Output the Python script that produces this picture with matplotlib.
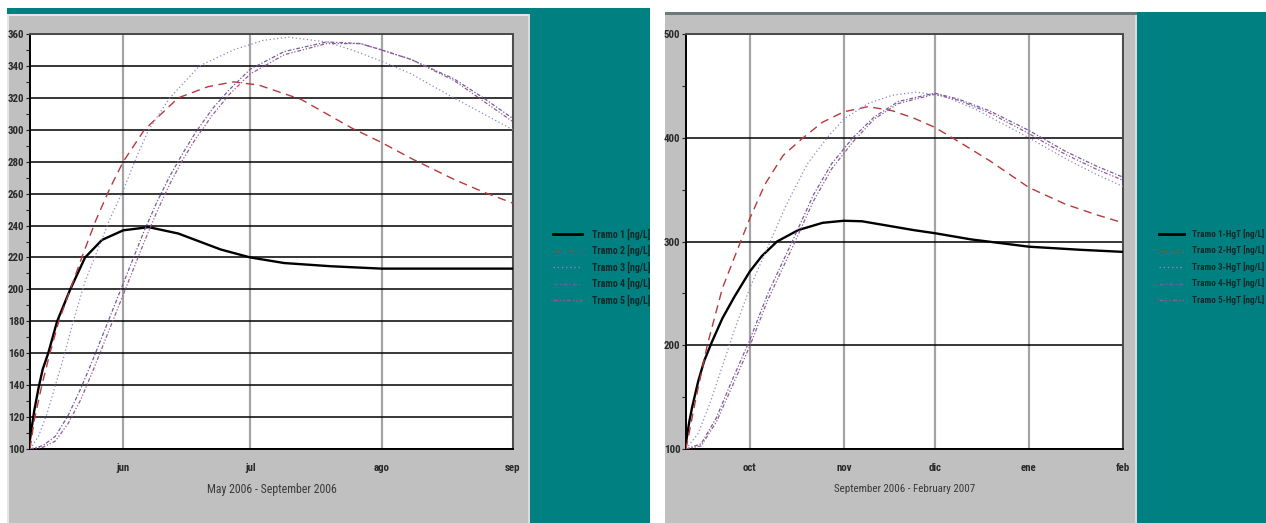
import numpy as np
import matplotlib
matplotlib.use("Agg")
import matplotlib.pyplot as plt
import matplotlib.dates as mdates
from matplotlib.patches import Rectangle
from matplotlib.lines import Line2D
from matplotlib import font_manager

W, H = 1266, 523

# pick a narrow sans face if one is installed, else an Arial-like one
_faces = font_manager.fontManager.ttflist
_names = {f.name for f in _faces}
NARROW = dict(family="Liberation Sans")
for cand in ("Liberation Sans Narrow", "Roboto Condensed", "Open Sans Condensed",
             "Noto Sans Condensed", "DejaVu Sans Condensed"):
    if cand in _names:
        NARROW = dict(family=cand)
        break

# ---------------- May 2006 - September 2006 ----------------
left_start = "2006-05-10"
left_end = "2006-09-01"
left_month_dates = ["2006-06-01", "2006-07-01", "2006-08-01", "2006-09-01"]
left_month_labels = ["jun", "jul", "ago", "sep"]
left_title = "May 2006 - September 2006"
left_names = ["Tramo 1 [ng/L]", "Tramo 2 [ng/L]", "Tramo 3 [ng/L]",
              "Tramo 4 [ng/L]", "Tramo 5 [ng/L]"]

left_t1_day = [0, 1, 2, 3, 4.3, 6.4, 9.5, 13, 17, 22, 28, 35, 45, 52, 60, 71, 83, 100, 114]
left_t1_val = [106, 124, 138, 150, 160, 180, 200, 220, 231, 237, 239, 235, 225, 220,
               216.5, 214.5, 213, 213, 213]

left_t2_day = [0, 1, 2.8, 4.7, 6.8, 9.5, 12.5, 15.5, 18.8, 22, 27, 35, 42, 48, 54, 64,
               70, 76, 83, 90, 100, 107, 114]
left_t2_val = [100, 118, 140, 160, 180, 200, 222, 243, 263, 280, 300, 320, 327, 330, 328,
               319, 310, 301, 292, 282, 269, 261, 254]

left_t3_day = [0, 2, 4, 6, 8, 10, 13, 16, 19, 22, 25, 28, 33, 40, 48, 55, 61, 70, 76,
               83, 90, 100, 107, 114]
left_t3_val = [100, 108, 122, 140, 158, 178, 205, 225, 245, 262, 282, 300, 320, 340, 350,
               356, 358, 355, 350, 343, 335, 320, 310, 300]

left_t4_day = [0, 3, 6, 9, 12, 15, 18, 21, 24, 27, 30, 33, 36, 39, 43, 47, 52, 60, 70,
               78, 83, 90, 100, 107, 114]
left_t4_val = [100, 102, 108, 121, 138, 157, 177, 197, 217, 237, 255, 271, 285, 298, 313,
               325, 338, 349, 355, 354, 350, 344, 332, 320, 307]

left_t5_day = left_t4_day
left_t5_val = [100, 101, 105, 116, 131, 150, 170, 190, 210, 230, 249, 266, 281, 294, 309,
               322, 335, 347, 354, 354, 350, 344, 331, 318, 305]

# ---------------- September 2006 - February 2007 ----------------
right_start = "2006-09-10"
right_end = "2007-02-01"
right_month_dates = ["2006-10-01", "2006-11-01", "2006-12-01", "2007-01-01", "2007-02-01"]
right_month_labels = ["oct", "nov", "dic", "ene", "feb"]
right_title = "September 2006 - February 2007"
right_names = ["Tramo 1-HgT [ng/L]", "Tramo 2-HgT [ng/L]", "Tramo 3-HgT [ng/L]",
               "Tramo 4-HgT [ng/L]", "Tramo 5-HgT [ng/L]"]

right_t1_day = [0, 1, 2, 4, 6, 8.5, 12, 16, 21, 25, 30, 37, 45, 52, 58, 66, 75, 82, 94,
                113, 130, 144]
right_t1_val = [106, 125, 140, 165, 185, 203, 226, 247, 271, 286, 300, 311, 318, 320,
                319.5, 315.5, 311, 308, 302, 295, 292, 290]

right_t2_day = [0, 3, 7, 12, 18, 21, 26, 32, 38.6, 45, 52, 60, 68, 75, 82, 90, 100, 113,
                125, 135, 144]
right_t2_val = [100, 145, 200, 255, 300, 322, 355, 383, 400, 415, 425, 430, 426, 419, 410,
                396, 378, 352, 336, 326, 318]

right_t3_day = [0, 4, 8, 12, 16, 21, 27, 33, 40, 46.5, 52, 60, 68, 76, 85, 95, 113, 125,
                135, 144]
right_t3_val = [100, 115, 145, 180, 215, 255, 295, 335, 375, 400, 418, 433, 441, 444, 440,
                428, 400, 380, 365, 353]

right_t4_day = [0, 5, 10, 15, 21, 27, 35, 42, 48, 55, 62, 70, 82, 90, 100, 113, 125, 135, 144]
right_t4_val = [100, 105, 130, 165, 205, 250, 300, 345, 375, 400, 420, 435, 443, 437, 426,
                407, 387, 373, 362]

right_t5_day = right_t4_day
right_t5_val = [100, 103, 126, 159, 199, 244, 294, 339, 370, 396, 418, 433, 442, 436, 424,
                404, 384, 370, 359]

# line appearance of the five reaches
styles = [
    dict(color="#000000", lw=1.7, ls="-"),
    dict(color="#b8383c", lw=1.0, ls=(0, (6, 4))),
    dict(color="#8a86cc", lw=0.9, ls=(0, (1, 2))),
    dict(color="#6e5ea8", lw=0.9, ls=(0, (3, 1.5, 1, 1.5))),
    dict(color="#9a5a8e", lw=0.9, ls=(0, (3, 1.5, 1, 1.5, 1, 1.5))),
]

TEAL = "#008080"
GRAY = "#c0c0c0"

fig = plt.figure(figsize=(W / 100, H / 100), dpi=100)
fig.patch.set_facecolor("white")
renderer = fig.canvas.get_renderer()


def fit_size(sample, target_px, weight="normal"):
    """Font size (pt) at which `sample` is target_px wide."""
    t = fig.text(0, 0, sample, fontsize=10, fontweight=weight, **NARROW)
    w = t.get_window_extent(renderer).width
    t.remove()
    return 10 * target_px / w


def rect(x0, y0, x1, y1, color, z=-3):
    fig.add_artist(Rectangle((x0 / W, 1 - y1 / H), (x1 - x0) / W, (y1 - y0) / H,
                             transform=fig.transFigure, facecolor=color,
                             edgecolor="none", zorder=z))


# window backgrounds
rect(7, 8, 650, 523, TEAL, -3)
rect(7, 14, 530, 523, GRAY, -2)
rect(7, 14, 530, 16, "#e6e6e6", -1)
rect(7, 14, 9, 523, "#e6e6e6", -1)
rect(528, 14, 530, 523, "#dcdcdc", -1)
rect(1137, 12, W, 523, TEAL, -3)
rect(665, 12, 1137, 523, GRAY, -2)
rect(665, 12, 1137, 15, "#6b7b7b", -1)
rect(1135, 15, 1137, 523, "#dcdcdc", -1)

tick_fs = min(fit_size("360", 16.5, "bold"), 9)
legend_fs = min(fit_size(left_names[0], 58, "bold"), 8)


def panel(px0, px1, start, end, ymin, ymax, major, minor, month_dates, month_labels,
          series, title, title_x, title_w, names, leg_x0, leg_x1, leg_tx, leg_w):
    ax = fig.add_axes([px0 / W, 1 - 449 / H, (px1 - px0) / W, (449 - 34) / H])
    ax.set_facecolor("white")
    t0 = mdates.datestr2num(start)
    for (days, vals), st in zip(series, styles):
        ax.plot(t0 + np.asarray(days, float), vals, **st, zorder=3)
    ax.set_xlim(t0, mdates.datestr2num(end))
    ax.set_ylim(ymin, ymax)
    ax.set_yticks(np.arange(ymin, ymax + 1, major))
    ax.set_yticks(np.arange(ymin + minor, ymax, major), minor=True)
    ax.set_xticks([mdates.datestr2num(d) for d in month_dates])
    ax.set_xticklabels(month_labels)
    ax.grid(axis="y", which="major", color="#000000", lw=1.1, zorder=1)
    ax.grid(axis="x", which="major", color="#a4a4a4", lw=1.6, zorder=1)
    ax.set_axisbelow(True)
    ax.tick_params(axis="y", which="both", direction="out", length=3, width=0.8,
                   color="#202020", pad=1)
    ax.tick_params(axis="x", length=0, pad=10)
    for lab in ax.get_xticklabels() + ax.get_yticklabels():
        lab.set(fontsize=tick_fs, color="#2a2a2a", fontweight="bold", **NARROW)
    for side in ("left", "bottom"):
        ax.spines[side].set_color("#000000")
        ax.spines[side].set_linewidth(1.4)
    for side in ("top", "right"):
        ax.spines[side].set_color("#4a4a4a")
        ax.spines[side].set_linewidth(1.4)
    fig.text(title_x / W, 1 - 489 / H, title, ha="center", va="center",
             fontsize=min(fit_size(title, title_w), 12), color="#3a3a3a", **NARROW)
    # legend on the window background
    leg_fs = min(fit_size(names[0], leg_w, "bold"), legend_fs)
    rows = [234, 250.5, 267, 283.5, 300]
    for name, st, yr in zip(names, styles, rows):
        fig.add_artist(Line2D([leg_x0 / W, leg_x1 / W], [1 - yr / H, 1 - yr / H],
                              transform=fig.transFigure, color=st["color"],
                              lw=max(st["lw"], 1.0) if st["ls"] != "-" else 2.0,
                              ls=st["ls"], zorder=5))
        fig.text(leg_tx / W, 1 - yr / H, name, ha="left", va="center",
                 fontsize=leg_fs, fontweight="bold", color="#0c2a2a", zorder=5,
                 **NARROW)
    return ax


panel(30, 513, left_start, left_end, 100, 360, 20, 10, left_month_dates,
      left_month_labels,
      [(left_t1_day, left_t1_val), (left_t2_day, left_t2_val), (left_t3_day, left_t3_val),
       (left_t4_day, left_t4_val), (left_t5_day, left_t5_val)],
      left_title, 272, 128, left_names, 553, 582, 592, 58)

panel(686, 1123, right_start, right_end, 100, 500, 100, 50, right_month_dates,
      right_month_labels,
      [(right_t1_day, right_t1_val), (right_t2_day, right_t2_val),
       (right_t3_day, right_t3_val), (right_t4_day, right_t4_val),
       (right_t5_day, right_t5_val)],
      right_title, 905, 140, right_names, 1159, 1184, 1192, 72)

fig.savefig("out.png", dpi=100, facecolor=fig.get_facecolor())
